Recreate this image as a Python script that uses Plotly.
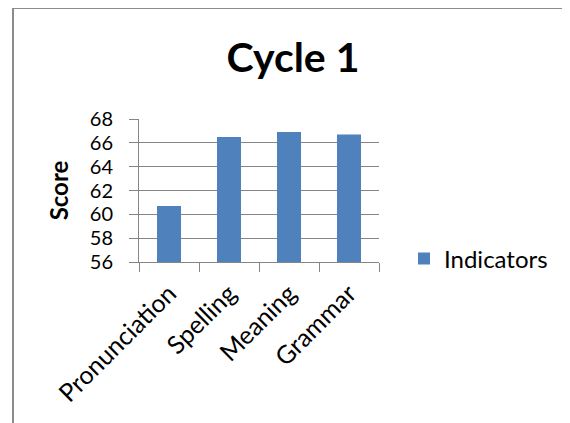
import plotly.graph_objects as go

categories = ["Pronunciation", "Spelling", "Meaning", "Grammar"]
scores = [60.7, 66.5, 66.9, 66.7]
series_name = "Indicators"
y_ticks = [56, 58, 60, 62, 64, 66, 68]

W, H = 570, 423
OFF = 8  # page body offset
L, T = 139 - OFF, 119 - OFF
pw, ph = 240, 143
R = W - L - pw
B = H - T - ph

def px_x(x):
    return (x - OFF - L) / pw

def px_y(y):
    return (T + ph - (y - OFF)) / ph

FONT = "Lato"
GRID = "#868686"

fig = go.Figure()
fig.add_trace(go.Bar(
    x=categories, y=scores, name=series_name,
    marker=dict(color="#4f81bd", line=dict(width=0)),
    width=0.4, showlegend=True,
))

fig.update_layout(
    width=W, height=H,
    margin=dict(l=L, r=R, t=T, b=B, pad=0),
    paper_bgcolor="white", plot_bgcolor="white",
    font=dict(family=FONT, color="#000000", size=24),
    title=dict(text="<b>Cycle 1</b>", x=px_x(293), xanchor="center",
               y=1 - (58 - OFF) / H, yanchor="middle", xref="paper",
               font=dict(family=FONT, size=41, color="#000000")),
    showlegend=True,
    legend=dict(x=px_x(404), xanchor="left", y=px_y(259), yanchor="middle",
                font=dict(family=FONT, size=24), bgcolor="rgba(0,0,0,0)",
                itemwidth=30),
    bargap=0.6,
)

fig.update_xaxes(
    type="category", tickangle=-45, tickson="boundaries",
    ticks="outside", ticklen=9, tickcolor=GRID, tickwidth=1,
    showline=True, linecolor=GRID, linewidth=1, showgrid=False,
    tickfont=dict(family=FONT, size=25), range=[-0.5, 3.5],
    ticklabelstandoff=6,
)
fig.update_yaxes(
    range=[56, 68], tickvals=y_ticks, ticks="outside", ticklen=9,
    tickcolor=GRID, tickwidth=1, showline=True, linecolor=GRID, linewidth=1,
    showgrid=True, gridcolor=GRID, gridwidth=1, zeroline=False,
    tickfont=dict(family=FONT, size=20), ticklabelstandoff=12,
    title=dict(text="<b>Score</b>", font=dict(family=FONT, size=24), standoff=14),
)

fig.add_shape(type="rect", xref="paper", yref="paper",
              x0=px_x(13), x1=px_x(600), y0=px_y(450), y1=px_y(8),
              line=dict(color="#8c8c8c", width=2), layer="above")

fig.write_html("out.html")
